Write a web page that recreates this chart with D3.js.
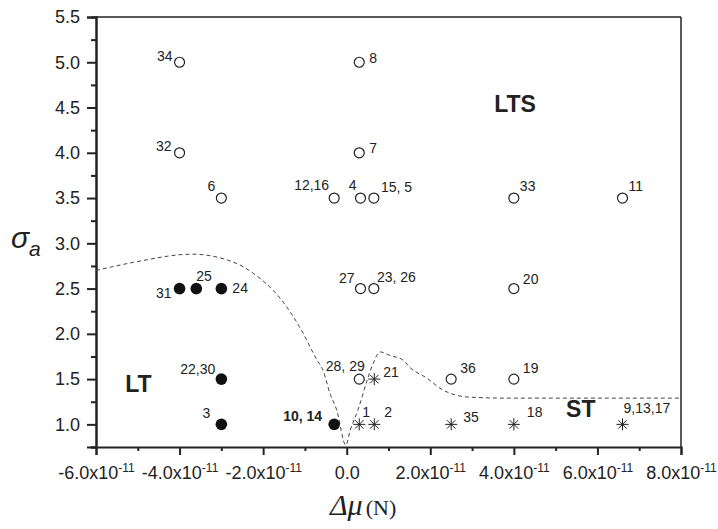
<!DOCTYPE html>
<html>
<head>
<meta charset="utf-8">
<script src="https://cdn.jsdelivr.net/npm/d3@7"></script>
<style>
  html, body { margin: 0; padding: 0; background: #fff; }
  svg { display: block; }
  text { font-family: "Liberation Sans", Arial, sans-serif; fill: #222; }
  text.serif, text.serif tspan { font-family: "Liberation Serif", "Times New Roman", serif; }
</style>
</head>
<body>
<svg id="chart" width="718" height="529"></svg>
<script>
// Tick values
const xTicks = [-6e-11, -4e-11, -2e-11, 0, 2e-11, 4e-11, 6e-11, 8e-11];
const xMinorTicks = [-5e-11, -3e-11, -1e-11, 1e-11, 3e-11, 5e-11, 7e-11];
const yTicks = [1.0, 1.5, 2.0, 2.5, 3.0, 3.5, 4.0, 4.5, 5.0, 5.5];
const yMinorTicks = [0.75, 1.25, 1.75, 2.25, 2.75, 3.25, 3.75, 4.25, 4.75, 5.25];

// Open circles: long-term stable cases
const openCases = [
  { id: "34", x: -4.0e-11, y: 5.0 },
  { id: "8", x: 0.3e-11, y: 5.0 },
  { id: "32", x: -4.0e-11, y: 4.0 },
  { id: "7", x: 0.3e-11, y: 4.0 },
  { id: "6", x: -3.0e-11, y: 3.5 },
  { id: "12,16", x: -0.3e-11, y: 3.5 },
  { id: "4", x: 0.33e-11, y: 3.5 },
  { id: "15, 5", x: 0.65e-11, y: 3.5 },
  { id: "33", x: 4.0e-11, y: 3.5 },
  { id: "11", x: 6.6e-11, y: 3.5 },
  { id: "27", x: 0.33e-11, y: 2.5 },
  { id: "23, 26", x: 0.65e-11, y: 2.5 },
  { id: "20", x: 4.0e-11, y: 2.5 },
  { id: "28, 29", x: 0.3e-11, y: 1.5 },
  { id: "36", x: 2.5e-11, y: 1.5 },
  { id: "19", x: 4.0e-11, y: 1.5 }
];

// Filled circles: long-term cases
const filledCases = [
  { id: "31", x: -4.0e-11, y: 2.5 },
  { id: "25", x: -3.6e-11, y: 2.5 },
  { id: "24", x: -3.0e-11, y: 2.5 },
  { id: "22,30", x: -3.0e-11, y: 1.5 },
  { id: "3", x: -3.0e-11, y: 1.0 },
  { id: "10, 14", x: -0.3e-11, y: 1.0 }
];

// Asterisks: short-term cases
const starCases = [
  { id: "21", x: 0.66e-11, y: 1.5 },
  { id: "1", x: 0.3e-11, y: 1.0 },
  { id: "2", x: 0.66e-11, y: 1.0 },
  { id: "35", x: 2.5e-11, y: 1.0 },
  { id: "18", x: 4.0e-11, y: 1.0 },
  { id: "9,13,17", x: 6.6e-11, y: 1.0 }
];

// Regime boundary (dashed)
const boundaryX = [-6.0e-11, -5.1e-11, -3.7e-11, -2.7e-11, -2.24e-11, -1.52e-11, -1.12e-11, -0.71e-11, -0.57e-11, -0.40e-11, -0.24e-11, -0.02e-11,
                   0.08e-11, 0.27e-11, 0.49e-11, 0.63e-11, 0.80e-11, 1.04e-11, 1.35e-11, 1.51e-11, 1.92e-11, 2.30e-11, 2.95e-11, 3.9e-11, 8.0e-11];
const boundaryY = [2.70, 2.79, 2.88, 2.79, 2.67, 2.35, 2.07, 1.71, 1.60, 1.34, 1.16, 0.77,
                   0.93, 1.16, 1.49, 1.67, 1.80, 1.76, 1.71, 1.63, 1.51, 1.38, 1.30, 1.29, 1.29];

// Regime labels
const regions = [
  { name: "LTS", x: 3.53e-11, y: 4.45 },
  { name: "LT", x: -5.3e-11, y: 1.36 },
  { name: "ST", x: 5.25e-11, y: 1.08 }
];

// Label placement around each marker: [dx, dy, anchor]
const labelPlace = {
  "34": [-7, -1, "end"], "32": [-8, -2, "end"], "6": [-6, -7, "end"],
  "12,16": [-5, -8, "end"], "4": [-4, -8, "end"], "8": [10, 1, "start"],
  "7": [10, 0, "start"], "15, 5": [7, -6, "start"], "33": [6, -7, "start"],
  "11": [6, -7, "start"], "27": [-6, -6, "end"], "23, 26": [3, -7, "start"],
  "20": [9, -5, "start"], "28, 29": [-14, -8, "middle"], "36": [9, -6, "start"],
  "19": [9, -6, "start"], "31": [-8, 9, "end"], "25": [0, -8, "start"],
  "24": [11, 4, "start"], "22,30": [-6, -5, "end"], "3": [-11, -6, "end"],
  "10, 14": [-12, -3, "end"], "21": [9, -2, "start"], "1": [3, -7, "start"],
  "2": [10, -7, "start"], "35": [12, -2, "start"], "18": [13, -7, "start"],
  "9,13,17": [1, -11, "start"]
};

const W = 718, H = 529;
const m = { left: 96, right: 37, top: 17, bottom: 82 };
const svg = d3.select("#chart");

const x = d3.scaleLinear().domain([-6e-11, 8e-11]).range([m.left, W - m.right]);
const y = d3.scaleLinear().domain([0.75, 5.5]).range([H - m.bottom, m.top]);

const ink = "#222";

// Frame: top and right edges
svg.append("line").attr("x1", x(-6e-11)).attr("x2", x(8e-11)).attr("y1", y(5.5)).attr("y2", y(5.5))
  .attr("stroke", ink).attr("stroke-width", 1.5);
svg.append("line").attr("x1", x(8e-11)).attr("x2", x(8e-11)).attr("y1", y(5.5)).attr("y2", y(0.75))
  .attr("stroke", ink).attr("stroke-width", 1.5);

// Superscripted scientific tick labels
function xLabel(sel, v) {
  if (v === 0) { sel.text("0.0"); return; }
  const mant = (v / 1e-11).toFixed(1);
  sel.append("tspan").text(mant + "x10");
  sel.append("tspan").attr("dy", -7).attr("font-size", 12).text("-11");
}

// X axis
const gx = svg.append("g").attr("transform", `translate(0,${y(0.75)})`);
gx.call(d3.axisBottom(x).tickValues(xTicks).tickSize(8).tickFormat(""));
gx.append("g").call(d3.axisBottom(x).tickValues(xMinorTicks).tickSize(4).tickFormat(""));
gx.selectAll(".domain").attr("stroke", ink).attr("stroke-width", 2);
gx.selectAll(".tick line").attr("stroke", ink).attr("stroke-width", 2);
gx.selectAll(".tick")
  .filter(d => xTicks.includes(d))
  .append("text")
  .attr("y", 32).attr("text-anchor", "middle").attr("font-size", 18).attr("fill", ink)
  .each(function(d) { xLabel(d3.select(this), d); });
gx.selectAll("g > g > .domain").remove();

// Y axis
const gy = svg.append("g").attr("transform", `translate(${x(-6e-11)},0)`);
gy.call(d3.axisLeft(y).tickValues(yTicks).tickSize(9).tickPadding(7).tickFormat(d3.format(".1f")));
gy.append("g").call(d3.axisLeft(y).tickValues(yMinorTicks).tickSize(5).tickFormat(""));
gy.selectAll(".domain").attr("stroke", ink).attr("stroke-width", 2);
gy.selectAll(".tick line").attr("stroke", ink).attr("stroke-width", 2);
gy.selectAll(".tick text").attr("font-size", 18).attr("fill", ink);

// Dashed boundary
const boundary = boundaryX.map((v, i) => [v, boundaryY[i]]);
svg.append("path")
  .datum(boundary)
  .attr("fill", "none").attr("stroke", "#444").attr("stroke-width", 1)
  .attr("stroke-dasharray", "4,3")
  .attr("d", d3.line().x(d => x(d[0])).y(d => y(d[1])).curve(d3.curveMonotoneX));

// Markers
svg.append("g").selectAll("circle").data(openCases).join("circle")
  .attr("cx", d => x(d.x)).attr("cy", d => y(d.y)).attr("r", 5)
  .attr("fill", "#fff").attr("stroke", ink).attr("stroke-width", 1.2);

svg.append("g").selectAll("circle").data(filledCases).join("circle")
  .attr("cx", d => x(d.x)).attr("cy", d => y(d.y)).attr("r", 5.8)
  .attr("fill", "#111");

const starArm = 6;
const stars = svg.append("g").selectAll("g").data(starCases).join("g")
  .attr("transform", d => `translate(${x(d.x)},${y(d.y)})`);
[0, 45, 90, 135].forEach(a => {
  const r = a * Math.PI / 180;
  stars.append("line")
    .attr("x1", -starArm * Math.cos(r)).attr("y1", -starArm * Math.sin(r))
    .attr("x2", starArm * Math.cos(r)).attr("y2", starArm * Math.sin(r))
    .attr("stroke", ink).attr("stroke-width", 1);
});

// Case labels
const allCases = [...openCases, ...filledCases, ...starCases];
svg.append("g").selectAll("text").data(allCases).join("text")
  .attr("x", d => x(d.x) + labelPlace[d.id][0])
  .attr("y", d => y(d.y) + labelPlace[d.id][1])
  .attr("text-anchor", d => labelPlace[d.id][2])
  .attr("font-size", 14)
  .attr("font-weight", d => d.id === "10, 14" ? "bold" : "normal")
  .text(d => d.id);

// Regime names
svg.append("g").selectAll("text").data(regions).join("text")
  .attr("x", d => x(d.x)).attr("y", d => y(d.y))
  .attr("font-size", 23).attr("font-weight", "bold").attr("fill", "#111")
  .text(d => d.name);

// Axis titles
const yt = svg.append("text").attr("x", 11).attr("y", 248).attr("fill", ink);
yt.append("tspan").attr("font-size", 30).attr("font-style", "italic").text("σ");
yt.append("tspan").attr("font-size", 21).attr("font-style", "italic").attr("dy", 8).text("a");

const xt = svg.append("text").attr("class", "serif").attr("x", 330).attr("y", 515).attr("fill", ink);
xt.append("tspan").attr("font-size", 30).attr("font-style", "italic").text("Δμ");
xt.append("tspan").attr("font-size", 22).attr("dx", 3).text("(N)");
</script>
</body>
</html>
